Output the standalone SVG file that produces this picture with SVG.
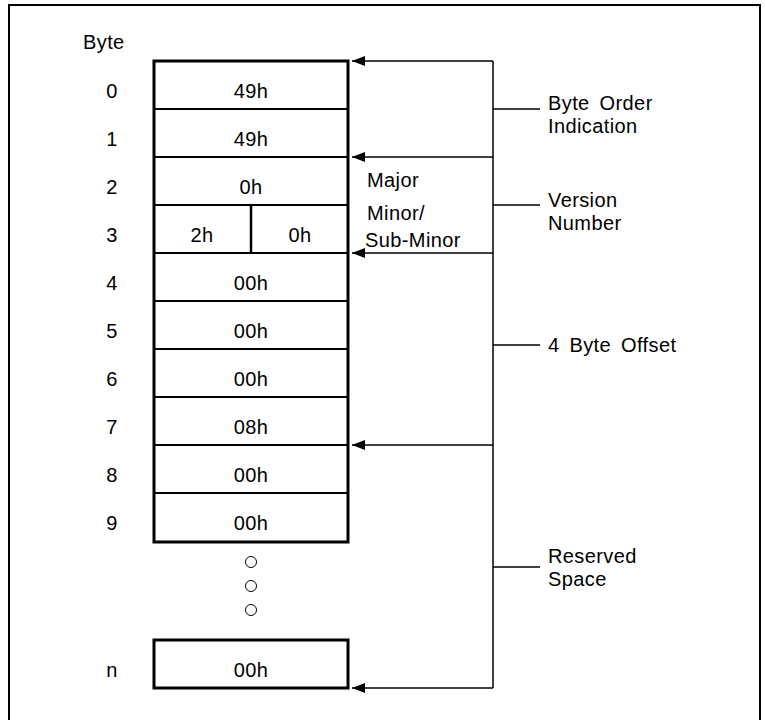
<svg xmlns="http://www.w3.org/2000/svg" width="765" height="720" viewBox="0 0 765 720">
<defs>
<marker id="ah" viewBox="0 0 13 10" refX="13" refY="5" markerWidth="13" markerHeight="10" markerUnits="userSpaceOnUse" orient="auto">
<path d="M0,0 L13,5 L0,10 z" fill="#000"/>
</marker>
<style>
text{font-family:"Liberation Sans",Arial,sans-serif;font-size:20px;fill:#000;letter-spacing:0.4px}
.c{text-anchor:middle}
.box{fill:#fff;stroke:#000;stroke-width:3}
.div{stroke:#000;stroke-width:2}
.con{fill:none;stroke:#000;stroke-width:1.5}
.dot{fill:none;stroke:#000;stroke-width:1}
</style>
</defs>
<rect width="765" height="720" fill="#fff"/>
<path d="M9,722 V5 H760 V722" fill="none" stroke="#000" stroke-width="2"/>
<text x="83" y="49">Byte</text>
<g id="byte-labels">
<text class="c" x="112" y="98">0</text>
<text class="c" x="112" y="146">1</text>
<text class="c" x="112" y="194">2</text>
<text class="c" x="112" y="242">3</text>
<text class="c" x="112" y="290">4</text>
<text class="c" x="112" y="338">5</text>
<text class="c" x="112" y="386">6</text>
<text class="c" x="112" y="434">7</text>
<text class="c" x="112" y="482">8</text>
<text class="c" x="112" y="530">9</text>
<text class="c" x="112" y="677">n</text>
</g>
<g id="header-block">
<rect class="box" x="154" y="61" width="194" height="481"/>
<line class="div" x1="154" y1="109" x2="348" y2="109"/>
<line class="div" x1="154" y1="157" x2="348" y2="157"/>
<line class="div" x1="154" y1="205" x2="348" y2="205"/>
<line class="div" x1="154" y1="253" x2="348" y2="253"/>
<line class="div" x1="154" y1="301" x2="348" y2="301"/>
<line class="div" x1="154" y1="349" x2="348" y2="349"/>
<line class="div" x1="154" y1="397" x2="348" y2="397"/>
<line class="div" x1="154" y1="445" x2="348" y2="445"/>
<line class="div" x1="154" y1="493" x2="348" y2="493"/>
<line x1="251" y1="205" x2="251" y2="253" stroke="#000" stroke-width="2.5"/>
<text class="c" x="251" y="98">49h</text>
<text class="c" x="251" y="146">49h</text>
<text class="c" x="251" y="194">0h</text>
<text class="c" x="202" y="242">2h</text>
<text class="c" x="300" y="242">0h</text>
<text class="c" x="251" y="290">00h</text>
<text class="c" x="251" y="338">00h</text>
<text class="c" x="251" y="386">00h</text>
<text class="c" x="251" y="434">08h</text>
<text class="c" x="251" y="482">00h</text>
<text class="c" x="251" y="530">00h</text>
</g>
<g id="ellipsis">
<circle class="dot" cx="251" cy="562" r="5.5"/>
<circle class="dot" cx="251" cy="586" r="5.5"/>
<circle class="dot" cx="251" cy="610" r="5.5"/>
</g>
<g id="byte-n">
<rect class="box" x="154" y="640" width="194" height="48"/>
<text class="c" x="251" y="677">00h</text>
</g>
<g id="connectors">
<path class="con" d="M493,61 H352" marker-end="url(#ah)"/>
<path class="con" d="M493,157 H352" marker-end="url(#ah)"/>
<path class="con" d="M493,253 H352" marker-end="url(#ah)"/>
<path class="con" d="M493,445 H352" marker-end="url(#ah)"/>
<path class="con" d="M493,688 H352" marker-end="url(#ah)"/>
<line class="con" x1="493" y1="61" x2="493" y2="688"/>
<line class="con" x1="493" y1="109" x2="540" y2="109"/>
<line class="con" x1="493" y1="205" x2="540" y2="205"/>
<line class="con" x1="493" y1="345" x2="540" y2="345"/>
<line class="con" x1="493" y1="567" x2="540" y2="567"/>
</g>
<g id="field-labels">
<text x="367" y="187">Major</text>
<text x="367" y="220">Minor/</text>
<text x="365" y="247">Sub-Minor</text>
</g>
<g id="label-byte-order">
<text x="548" y="110" word-spacing="4">Byte Order</text>
<text x="548" y="133">Indication</text>
</g>
<g id="label-version">
<text x="548" y="207">Version</text>
<text x="548" y="230">Number</text>
</g>
<g id="label-offset">
<text x="548" y="352" word-spacing="4">4 Byte Offset</text>
</g>
<g id="label-reserved">
<text x="548" y="563">Reserved</text>
<text x="548" y="586">Space</text>
</g>
</svg>
